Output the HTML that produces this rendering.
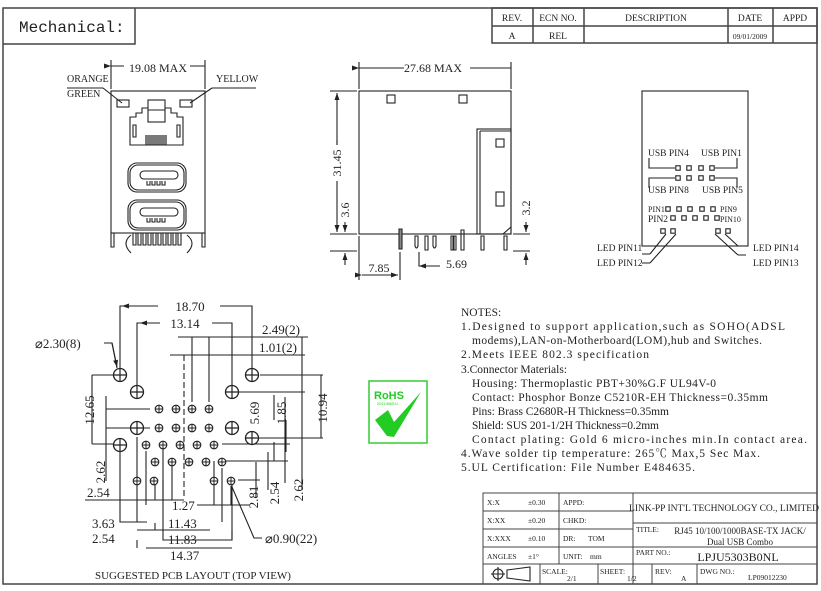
<!DOCTYPE html>
<html><head><meta charset="utf-8"><style>
html,body{margin:0;padding:0;background:#fff;}
svg{display:block;}
text{font-family:"Liberation Serif","Noto Serif CJK SC",serif;fill:#222;}
</style></head><body>
<svg width="821" height="591" viewBox="0 0 821 591" xmlns="http://www.w3.org/2000/svg">
<defs>
<marker id="ar" markerWidth="8" markerHeight="6" refX="7" refY="3" orient="auto" markerUnits="userSpaceOnUse"><path d="M0,0.5 L7,3 L0,5.5 z" fill="#222"/></marker>
<g id="bh"><circle r="6.5" fill="#fff" stroke="#222" stroke-width="1.3"/><path d="M-6.5,0H6.5M0,-6.5V6.5" stroke="#222" stroke-width="1.2"/></g>
<g id="sh"><circle r="3.8" fill="#fff" stroke="#222" stroke-width="1.1"/><path d="M-3.8,0H3.8M0,-3.8V3.8" stroke="#222" stroke-width="1"/></g>
<rect id="sq" x="-2.2" y="-2.2" width="4.4" height="4.4" fill="#fff" stroke="#222" stroke-width="1.1"/>
</defs>
<g fill="none" stroke="#444" stroke-width="1.5">
<rect x="3" y="8" width="814" height="576"/>
<path d="M3,44H135V8"/>
<rect x="492" y="8" width="325" height="35"/>
<path d="M492,26H817M533,8V43M584,8V43M728,8V43M773,8V43"/>
</g>
<text x="19" y="32" font-size="16" style="font-family:'Liberation Mono',monospace">Mechanical:</text>
<g font-size="9.5" text-anchor="middle">
<text x="512" y="21">REV.</text><text x="558" y="21">ECN NO.</text><text x="656" y="21">DESCRIPTION</text><text x="750" y="21">DATE</text><text x="795" y="21">APPD</text>
<text x="512" y="39">A</text><text x="558" y="39">REL</text><text x="750" y="39" font-size="7.5">09/01/2009</text>
</g>

<!-- FRONT VIEW -->
<g fill="none" stroke="#222" stroke-width="1.1">
<path d="M111,60V89M205,60V89"/>
<path d="M111,66H124M190,66H205" marker-start="url(#ar)"/>
<rect x="111" y="91" width="94" height="142"/>
<rect x="117" y="100" width="12" height="7"/><rect x="180" y="100" width="12" height="7"/>
<path d="M98,88H103L122,103M212,88H256M212,88L190,103"/>
<path d="M67,88H103"/>
<rect x="148" y="100" width="17" height="22"/><path d="M148,110H165"/>
<path d="M148,108H142V113H136V117H130V145H183V117H177V113H171V108H165"/>
<path d="M133,125h3v12h-3zM177,125h3v12h-3z"/>
<path d="M146,145V135M148,145V135M150,145V135M152,145V135M154,145V135M156,145V135M158,145V135M160,145V135M162,145V135M164,145V135M166,145V135" stroke-width="1.2"/>
<rect x="128" y="163" width="58" height="29" rx="9"/><rect x="130" y="165" width="54" height="25" rx="8"/>
<rect x="140" y="171" width="38" height="8" rx="4"/>
<path d="M147,181v4h3v-4M152,181v4h3v-4M157,181v4h3v-4M162,181v4h3v-4"/>
<rect x="128" y="200" width="58" height="30" rx="9"/><rect x="130" y="202" width="54" height="26" rx="8"/>
<rect x="140" y="208" width="38" height="8" rx="4"/>
<path d="M147,218v4h3v-4M152,218v4h3v-4M157,218v4h3v-4M162,218v4h3v-4"/>
<path d="M111,233V247h3V233M202,233V247h3V233"/>
<path d="M133,233v12h3v-12M138,233v12h3v-12M143,233v12h3v-12M148,233v12h3v-12M153,233v12h3v-12M158,233v12h3v-12M163,233v12h3v-12M168,233v12h3v-12M173,233v12h3v-12M178,233v12h3v-12"/>
<path d="M131,235q-10,8,0,18M187,235q10,8,0,18"/>
</g>
<text x="158" y="72" font-size="12" text-anchor="middle">19.08 MAX</text>
<text x="67" y="82" font-size="10">ORANGE</text><text x="67" y="97" font-size="10">GREEN</text>
<text x="216" y="82" font-size="10">YELLOW</text>

<!-- SIDE VIEW -->
<g fill="none" stroke="#222" stroke-width="1.1">
<path d="M359,62V89M511,62V89"/>
<path d="M359,68H404M470,68H511" marker-start="url(#ar)"/>
<rect x="359" y="91" width="152" height="143"/>
<rect x="387" y="95" width="8" height="8"/><rect x="459" y="95" width="8" height="8"/>
<rect x="477" y="129" width="34" height="105"/><path d="M480,131V234M480,131H511"/>
<rect x="496" y="139" width="8" height="8"/><rect x="496" y="192" width="8" height="14"/>
<path d="M503,234L511,227"/>
<path d="M399,229v20h3v-20z" fill="#888"/>
<path d="M415,236v10q1.5,4,3,0v-10zM425,236v14h3v-14zM433,236v10q1.5,4,3,0v-10z"/>
<path d="M451,236v14h2v-14zM454,236v14h2v-14zM461,230v20h3v-20z"/>
<path d="M481,236v14h3v-14zM504,236v14h3v-14z"/>
<path d="M330,91H357M330,234H357M330,251H357"/>
<path d="M337,180V93" marker-end="url(#ar)"/><path d="M337,140V232" marker-end="url(#ar)"/>
<path d="M345,222V232" marker-end="url(#ar)"/><path d="M345,265V253" marker-end="url(#ar)"/>
<path d="M513,234H530M513,251H530"/>
<path d="M526,222V232" marker-end="url(#ar)"/><path d="M526,265V253" marker-end="url(#ar)"/>
<path d="M359,236V280M400,252V280"/>
<path d="M362,275H398" marker-start="url(#ar)" marker-end="url(#ar)"/>
<path d="M419,252V266H437" /><path d="M440,266H419" marker-end="url(#ar)"/>
</g>
<rect x="330" y="145" width="14" height="36" fill="#fff"/>
<text transform="translate(341,163) rotate(-90)" font-size="12" text-anchor="middle">31.45</text>
<text transform="translate(349,210) rotate(-90)" font-size="12" text-anchor="middle">3.6</text>
<text transform="translate(530,208) rotate(-90)" font-size="12" text-anchor="middle">3.2</text>
<text x="379" y="272" font-size="12" text-anchor="middle">7.85</text>
<text x="446" y="268" font-size="12">5.69</text>
<text x="433" y="72" font-size="12" text-anchor="middle">27.68 MAX</text>

<!-- PIN VIEW -->
<g fill="none" stroke="#222" stroke-width="1.1">
<rect x="642" y="91" width="106" height="155"/>
<path d="M649,158V168H675M737,158V168H715M649,188V178H675M737,188V178H715"/>
<path d="M666,234L650,254M676,234L650,263M715,234L738,255M725,234L738,246"/>
<path d="M642,254H650M642,263H650M738,255H746M738,246H746" stroke-width="0.9"/>
</g>
<g>
<use href="#sq" x="678" y="168"/><use href="#sq" x="689" y="168"/><use href="#sq" x="701" y="168"/><use href="#sq" x="712" y="168"/>
<use href="#sq" x="678" y="178"/><use href="#sq" x="689" y="178"/><use href="#sq" x="701" y="178"/><use href="#sq" x="712" y="178"/>
<use href="#sq" x="668" y="209"/><use href="#sq" x="679" y="209"/><use href="#sq" x="690" y="209"/><use href="#sq" x="702" y="209"/><use href="#sq" x="713" y="209"/>
<use href="#sq" x="673" y="218"/><use href="#sq" x="684" y="218"/><use href="#sq" x="695" y="218"/><use href="#sq" x="706" y="218"/><use href="#sq" x="717" y="218"/>
<use href="#sq" x="663" y="231"/><use href="#sq" x="673" y="231"/><use href="#sq" x="718" y="231"/><use href="#sq" x="728" y="231"/>
</g>
<g font-size="9.5">
<text x="648" y="156">USB PIN4</text><text x="701" y="156">USB PIN1</text>
<text x="648" y="193">USB PIN8</text><text x="702" y="193">USB PIN5</text>
<text x="648" y="212" font-size="8">PIN1</text><text x="720" y="212" font-size="8">PIN9</text>
<text x="648" y="222">PIN2</text><text x="720" y="222" font-size="8">PIN10</text>
<text x="597" y="251">LED PIN11</text><text x="597" y="266">LED PIN12</text>
<text x="753" y="251">LED PIN14</text><text x="753" y="266">LED PIN13</text>
</g>

<!-- PCB LAYOUT -->
<g fill="none" stroke="#222" stroke-width="1.1">
<path d="M184,355V497" stroke-dasharray="6,3"/>
<path d="M120,368V306H158M220,306H252V368" /><path d="M158,306H122" marker-end="url(#ar)"/>
<path d="M137,385V323H160M212,323H232V385"/><path d="M160,323H140" marker-end="url(#ar)"/>
<path d="M178,337H308M192,337V402M209,337V402"/>
<path d="M170,355H305M184,355V355"/>
<path d="M104,343H112L117,368" /><path d="M112,343L117,367" marker-end="url(#ar)"/>
<path d="M260,375H323M239,392H305M258,438H323M222,461H288M222,444H290M238,480H260"/>
<path d="M92,375H113M92,444H113M92,375V444"/>
<path d="M106,396V481M106,409H150M106,428H150"/>
<path d="M321,375V438"/>
<path d="M302,337V490M274,395V420M285,397V483M286,420V452M274,442V461"/>
<path d="M268,452V490M256,462V497"/>
<path d="M85,500H184M155,500V481M163,500V446M172,500V462"/>
<path d="M197,505H250M214,505V461M231,505V486"/>
<path d="M120,451V522H147M137,437V522M222,468V522M146,451V505M163,480V540H232V485"/>
<path d="M137,530H210M155,530V523M232,530V540"/>
<path d="M146,548H232M137,540V548"/>
<path d="M232,487L254,538H262"/>
</g>
<g>
<use href="#bh" x="120" y="375"/><use href="#bh" x="137" y="392"/><use href="#bh" x="232" y="392"/><use href="#bh" x="252" y="375"/>
<use href="#bh" x="137" y="428"/><use href="#bh" x="232" y="428"/><use href="#bh" x="120" y="445"/><use href="#bh" x="252" y="438"/>
<use href="#sh" x="159" y="409"/><use href="#sh" x="176" y="409"/><use href="#sh" x="192" y="409"/><use href="#sh" x="209" y="409"/>
<use href="#sh" x="159" y="428"/><use href="#sh" x="176" y="428"/><use href="#sh" x="192" y="428"/><use href="#sh" x="209" y="428"/>
<use href="#sh" x="146" y="445"/><use href="#sh" x="163" y="445"/><use href="#sh" x="180" y="445"/><use href="#sh" x="197" y="445"/><use href="#sh" x="214" y="445"/>
<use href="#sh" x="155" y="462"/><use href="#sh" x="172" y="462"/><use href="#sh" x="189" y="462"/><use href="#sh" x="206" y="462"/><use href="#sh" x="222" y="462"/>
<use href="#sh" x="137" y="481"/><use href="#sh" x="154" y="481"/><use href="#sh" x="214" y="481"/><use href="#sh" x="231" y="481"/>
</g>
<g font-size="13">
<text x="190" y="311" text-anchor="middle">18.70</text>
<text x="185" y="328" text-anchor="middle">13.14</text>
<text x="262" y="334">2.49(2)</text>
<text x="259" y="352">1.01(2)</text>
<text x="35" y="348">⌀2.30(8)</text>
<text transform="translate(94,410) rotate(-90)" text-anchor="middle">12.65</text>
<text transform="translate(105,472) rotate(-90)" text-anchor="middle">2.62</text>
<text transform="translate(259,413) rotate(-90)" text-anchor="middle">5.69</text>
<text transform="translate(286,413) rotate(-90)" text-anchor="middle">1.85</text>
<text transform="translate(327,408) rotate(-90)" text-anchor="middle">10.94</text>
<text transform="translate(279,493) rotate(-90)" text-anchor="middle">2.54</text>
<text transform="translate(303,490) rotate(-90)" text-anchor="middle">2.62</text>
<text transform="translate(258,497) rotate(-90)" text-anchor="middle">2.81</text>
<text x="87" y="497">2.54</text>
<text x="172" y="510">1.27</text>
<text x="92" y="528">3.63</text><text x="168" y="528">11.43</text>
<text x="92" y="543">2.54</text><text x="168" y="544">11.83</text>
<text x="170" y="560">14.37</text>
<text x="265" y="543">⌀0.90(22)</text>
</g>
<text x="95" y="579" font-size="11">SUGGESTED PCB LAYOUT (TOP VIEW)</text>

<!-- ROHS -->
<rect x="369" y="381" width="58" height="62" fill="#fff" stroke="#3c3" stroke-width="1.5"/>
<text x="374" y="399" font-size="11" font-weight="bold" style="font-family:'Liberation Sans',sans-serif;fill:#2c2">RoHS</text>
<text x="377" y="405" font-size="4" style="font-family:'Liberation Sans',sans-serif;fill:#2c2">2011/65/EU</text>
<path d="M375,420L388,410L394,422L421,392L394,437L387,436Z" fill="#2c2"/>

<!-- NOTES -->
<g font-size="11.5">
<text x="461" y="316">NOTES:</text>
<text x="461" y="330" textLength="324">1.Designed to support application,such as SOHO(ADSL</text>
<text x="472" y="344" textLength="290">modems),LAN-on-Motherboard(LOM),hub and Switches.</text>
<text x="461" y="358" textLength="188">2.Meets IEEE 802.3 specification</text>
<text x="461" y="373">3.Connector Materials:</text>
<text x="472" y="387" textLength="244">Housing: Thermoplastic PBT+30%G.F UL94V-0</text>
<text x="472" y="401" textLength="296">Contact: Phosphor Bonze C5210R-EH Thickness=0.35mm</text>
<text x="472" y="415" textLength="197">Pins: Brass C2680R-H  Thickness=0.35mm</text>
<text x="472" y="429" textLength="187">Shield: SUS 201-1/2H  Thickness=0.2mm</text>
<text x="472" y="443" textLength="335">Contact plating: Gold 6 micro-inches min.In contact area.</text>
<text x="461" y="457" textLength="299">4.Wave solder tip temperature: 265℃ Max,5 Sec Max.</text>
<text x="461" y="471" textLength="234">5.UL Certification: File Number E484635.</text>
</g>

<!-- TITLE BLOCK -->
<g fill="none" stroke="#444" stroke-width="1">
<rect x="483" y="493" width="334" height="91"/>
<path d="M483,511H633M483,529H633M483,547H817M483,564H817M633,523H817"/>
<path d="M559,493V564M633,493V584M540,564V584M598,564V584M652,564V584M697,564V584"/>
</g>
<g font-size="7.5">
<text x="487" y="505">X:X</text><text x="528" y="505">±0.30</text><text x="563" y="505">APPD:</text>
<text x="487" y="523">X:XX</text><text x="528" y="523">±0.20</text><text x="563" y="523">CHKD:</text>
<text x="487" y="541">X:XXX</text><text x="528" y="541">±0.10</text><text x="563" y="541">DR:</text><text x="588" y="541">TOM</text>
<text x="487" y="559">ANGLES</text><text x="528" y="559">±1°</text><text x="563" y="559">UNIT:</text><text x="590" y="559">mm</text>
<text x="542" y="574">SCALE:</text><text x="567" y="581">2/1</text>
<text x="600" y="574">SHEET:</text><text x="627" y="581">1/2</text>
<text x="655" y="574">REV:</text><text x="681" y="581">A</text>
<text x="700" y="574">DWG NO.:</text><text x="748" y="580">LP09012230</text>
<text x="636" y="532">TITLE:</text><text x="636" y="555">PART NO.:</text>
</g>
<text x="724" y="511" font-size="9.5" text-anchor="middle">LINK-PP INT'L TECHNOLOGY CO., LIMITED</text>
<text x="740" y="534" font-size="9" text-anchor="middle">RJ45 10/100/1000BASE-TX JACK/</text>
<text x="740" y="545" font-size="9" text-anchor="middle">Dual USB Combo</text>
<text x="738" y="561" font-size="12" text-anchor="middle">LPJU5303B0NL</text>
<g fill="none" stroke="#222" stroke-width="1.1">
<circle cx="498" cy="574" r="5"/><path d="M491,574H505M498,567V581"/>
<path d="M507,570L530,567V581L507,578Z"/>
</g>
</svg>
</body></html>
